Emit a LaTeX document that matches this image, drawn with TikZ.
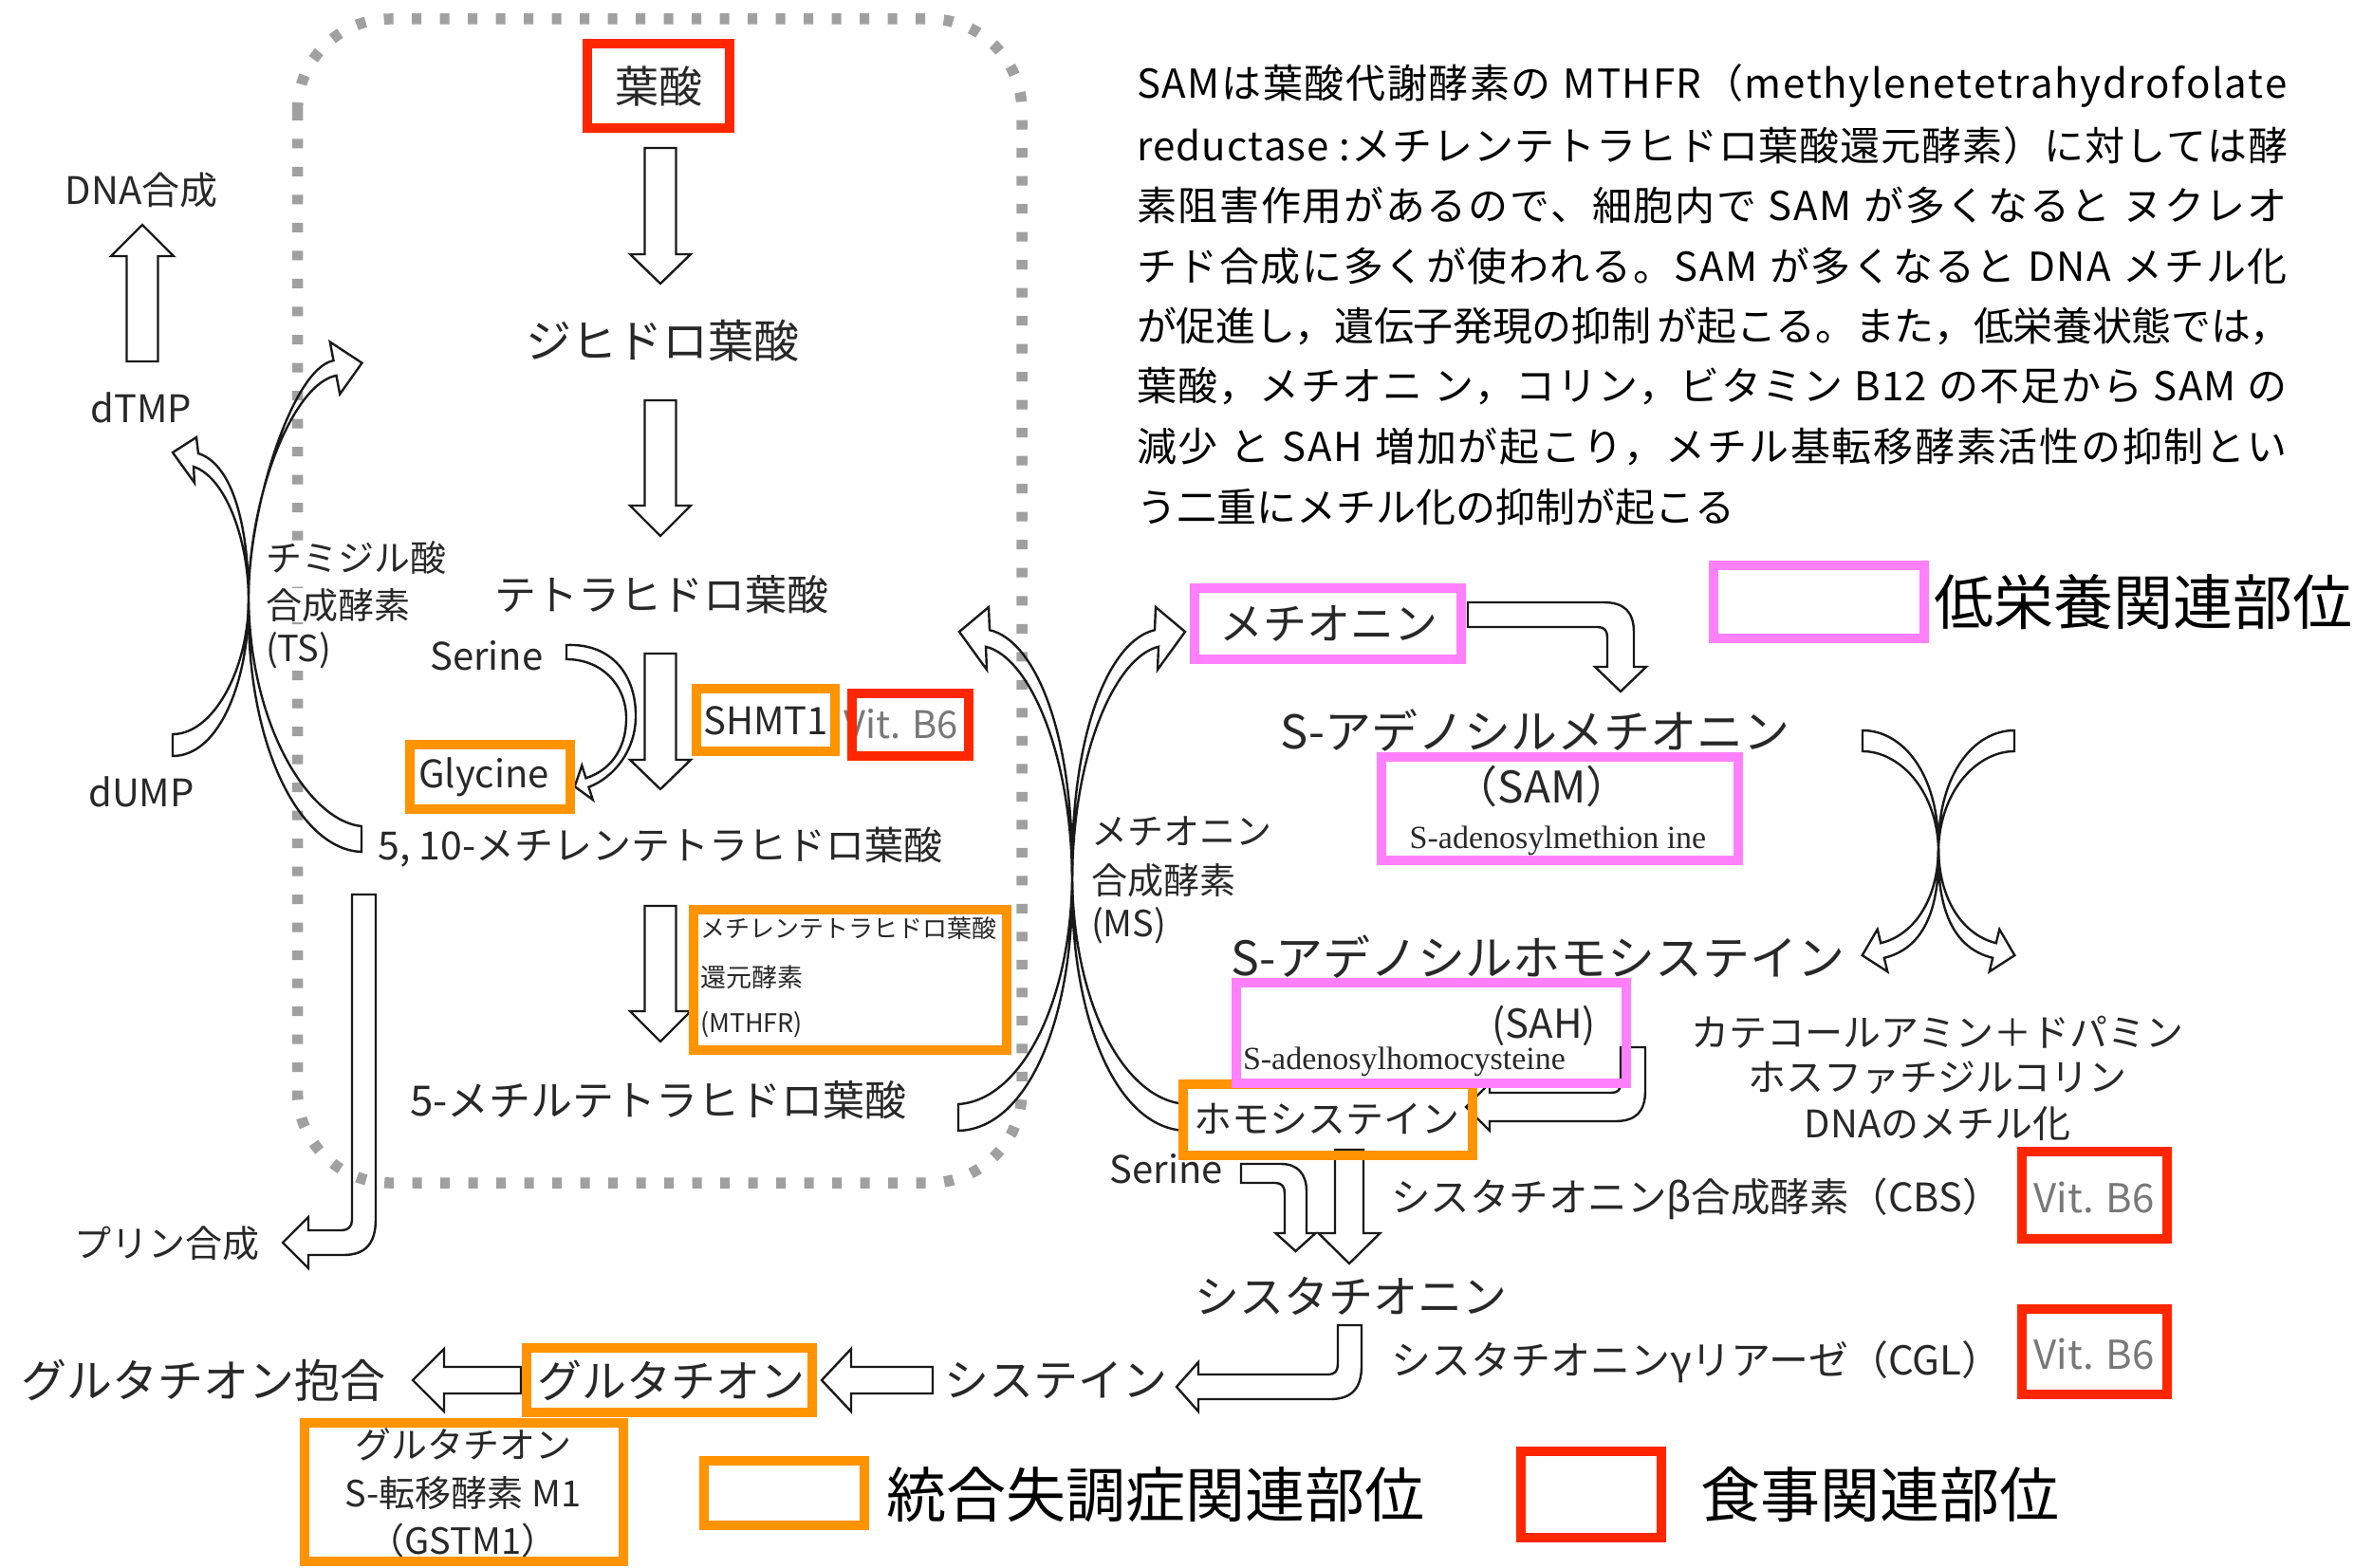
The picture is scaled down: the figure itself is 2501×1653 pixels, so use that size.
\documentclass[tikz,border=0pt]{standalone}
\usepackage{fontspec}
\setmainfont{Noto Sans CJK JP}
\newfontfamily\serifen{Liberation Serif}
\definecolor{bxred}{RGB}{255,38,0}
\definecolor{bxorange}{RGB}{255,147,0}
\definecolor{bxpink}{RGB}{255,128,250}
\definecolor{txtgray}{RGB}{40,40,40}
\definecolor{vitgray}{RGB}{120,120,120}
\definecolor{dotgray}{RGB}{160,160,160}
\newcommand\fsz[1]{\fontsize{#1}{#1}\selectfont}
% justify a line: glue after every character (spaces written as ~)
\def\sprend{\sprend}
\def\sprloop#1{\ifx#1\sprend\else#1\hskip0pt plus 1fil minus 0.6pt\relax\expandafter\sprloop\fi}
\newcommand\jline[1]{\makebox[1214pt][s]{\sprloop#1\sprend\hskip0pt minus 2pt}}
\tikzset{
  hol/.style={draw=black!90, line width=2.4pt, line join=miter, miter limit=4},
  holw/.style={hol, fill=white},
  tx/.style={inner sep=0pt, outer sep=0pt, text=txtgray},
  rbox/.style={draw=bxred, line width=10pt},
  obox/.style={draw=bxorange, line width=10pt},
  pbox/.style={draw=bxpink, line width=10pt},
  para/.style={anchor=west, inner sep=0pt, font=\fsz{42}, text=black},
}
% straight hollow arrow along y: x, ytail, ybase, ytip, half shaft, half head
\newcommand\dnarr[6]{\draw[holw] ({#1-#5},#2) -- ({#1+#5},#2) -- ({#1+#5},#3) -- ({#1+#6},#3) -- (#1,#4) -- ({#1-#6},#3) -- ({#1-#5},#3) -- cycle;}
% straight hollow arrow along x: y, xtail, xbase, xtip, half shaft, half head
\newcommand\lfarr[6]{\draw[holw] (#2,{#1-#5}) -- (#2,{#1+#5}) -- (#3,{#1+#5}) -- (#3,{#1+#6}) -- (#4,#1) -- (#3,{#1-#6}) -- (#3,{#1-#5}) -- cycle;}
\newcommand\msarrowpath{\draw[hol] (1010,1164) .. controls (1075,1160) and (1128,1060) .. (1130,927) .. controls (1129,790) and (1083,692) .. (1039,681.8) -- (1040,706) -- (1011,666) -- (1042,640) -- (1043,664.2) .. controls (1090,675) and (1132,770) .. (1130,927) .. controls (1132,1070) and (1085,1190) .. (1010,1192) -- cycle;}
\newcommand\xarrowpath{\draw[hol] (1963,770) .. controls (2005,770) and (2043,815) .. (2043,893) .. controls (2043,950) and (2070,986) .. (2103.8,994.2) -- (2107.3,979.7) -- (2123.3,1007.1) -- (2096.7,1024.3) -- (2100.2,1009.8) .. controls (2059.5,1000) and (2041,960) .. (2043,893) .. controls (2040,830) and (2000,792) .. (1963,792) -- cycle;}
\begin{document}
\begin{tikzpicture}[x=1pt,y=-1pt]
\useasboundingbox (0,0) rectangle (2501,1653);
\fill[white] (0,0) rectangle (2501,1653);
% dotted folate-cycle frame
\draw[dotgray, line width=11.5pt, dash pattern=on 10pt off 19.5pt, rounded corners=97pt] (313.5,20) rectangle (1077,1247);

% ---- straight hollow arrows
\dnarr{696}{156}{268}{299}{16.5}{32}
\dnarr{696}{422}{533}{565}{16.5}{32}
\dnarr{696}{689}{801}{832}{16.5}{32}
\dnarr{696}{955}{1066}{1098}{16.5}{32}
\dnarr{150}{381}{270}{237}{16.5}{33}
\dnarr{1422}{1212}{1300}{1332}{15}{32.5}
\lfarr{1455}{983}{897}{866}{14}{33}
\lfarr{1455}{549}{468}{435}{14}{33}

% ---- TS crossing arrows
\draw[hol] (182,774) .. controls (225,774) and (262,705) .. (262,632)
  .. controls (262,570) and (238,503) .. (204,492) -- (205,509) -- (182,477) -- (207,461) -- (209,478)
  .. controls (247,490) and (262,560) .. (262,632)
  .. controls (263,715) and (232,797) .. (182,797) -- cycle;
\draw[hol] (381,871) .. controls (328,866) and (264,770) .. (262,632)
  .. controls (262,520) and (310,404) .. (354.5,395.9) -- (358.2,415.5) -- (381.5,382.6) -- (347.8,360.5) -- (351.5,380.1)
  .. controls (307.5,388.5) and (261,540) .. (262,632)
  .. controls (259,790) and (318,896) .. (381,898) -- cycle;

% ---- MS crossing arrows
\msarrowpath
\begin{scope}[xshift=2260pt, xscale=-1]\msarrowpath\end{scope}

% ---- SAM/SAH crossing arrows
\xarrowpath
\begin{scope}[xshift=4086pt, xscale=-1]\xarrowpath\end{scope}

% ---- Serine -> Glycine
\draw[holw] (597,680) .. controls (645,678) and (671,712) .. (670,757)
  .. controls (669,793) and (646,820) .. (620.5,829.75) -- (624.7,843) -- (605.7,829.2) -- (613.3,807) -- (617.5,820.25)
  .. controls (641,813) and (660,792) .. (660,757) .. controls (660,722) and (634,695) .. (597,695) -- cycle;

% ---- bent arrows
\draw[holw] (1547,635) -- (1690,635) .. controls (1712,635) and (1722,645) .. (1722,667) -- (1722,703) -- (1735,703) -- (1708,729) -- (1681,703) -- (1694,703) -- (1694,672) .. controls (1694,665) and (1691,661) .. (1684,661) -- (1547,661) -- cycle;
\draw[holw] (1708,1104) -- (1734,1104) -- (1734,1150) .. controls (1734,1172) and (1724,1182) .. (1702,1182) -- (1570,1182) -- (1570,1192) -- (1545,1167) -- (1570,1142) -- (1570,1152) -- (1698,1152) .. controls (1705,1152) and (1708,1149) .. (1708,1142) -- cycle;
\draw[holw] (1308,1227) -- (1350,1227) .. controls (1368,1227) and (1377,1238) .. (1377,1256) -- (1377,1300) -- (1386.5,1300) -- (1365.5,1319) -- (1344.5,1300) -- (1354,1300) -- (1354,1258) .. controls (1354,1251) and (1351,1247) .. (1344,1247) -- (1308,1247) -- cycle;
\draw[holw] (1410,1397) -- (1435,1397) -- (1435,1440) .. controls (1435,1463) and (1425,1475) .. (1402,1475) -- (1263,1475) -- (1263,1488) -- (1240,1462) -- (1263,1436) -- (1263,1449) -- (1400,1449) .. controls (1407,1449) and (1410,1445) .. (1410,1438) -- cycle;
\draw[hol] (371,943) -- (396,943) -- (396,1285) .. controls (396,1310) and (386,1323) .. (362,1323) -- (325,1323) -- (325,1337) -- (298,1310) -- (325,1283) -- (325,1297) -- (360,1297) .. controls (367,1297) and (371,1293) .. (371,1286) -- cycle;

% ---- texts (left part)
\node[tx, font=\fsz{46}] (folate) at (694,91) {葉酸};
\node[tx, font=\fsz{48}] (dhf) at (698,359) {ジヒドロ葉酸};
\node[tx, font=\fsz{44}] (thf) at (697,627) {テトラヒドロ葉酸};
\node[tx, font=\fsz{40}] (ser1) at (513,691) {Serine};
\node[tx, font=\fsz{40}] (gly) at (510,819) {Glycine};
\node[tx, font=\fsz{40}] (shmt) at (807,760) {SHMT1};
\node[tx, font=\fsz{40}, text=vitgray, anchor=west] (vb6a) at (889,763) {Vit. B6};
\node[tx, font=\fsz{41}] (mthf510) at (696,893) {5, 10-メチレンテトラヒドロ葉酸};
\node[tx, font=\fsz{26}, anchor=west] (mthfr1) at (738,979) {メチレンテトラヒドロ葉酸};
\node[tx, font=\fsz{27}, anchor=west] (mthfr2) at (738,1030) {還元酵素};
\node[tx, font=\fsz{27}, anchor=west] (mthfr3) at (738,1080) {(MTHFR)};
\node[tx, font=\fsz{44}] (mthf5) at (694,1160) {5-メチルテトラヒドロ葉酸};
\node[tx, font=\fsz{40}] (dna) at (149,200) {DNA合成};
\node[tx, font=\fsz{40}] (dtmp) at (149,430) {dTMP};
\node[tx, font=\fsz{40}] (dump) at (149,835) {dUMP};
\node[tx, font=\fsz{38}, anchor=west, fill=white] (ts1) at (280,588) {チミジル酸};
\node[tx, font=\fsz{38}, anchor=west, fill=white] (ts2) at (280,638) {合成酵素};
\node[tx, font=\fsz{38}, anchor=west, fill=white] (ts3) at (280,686) {(TS)};
\node[tx, font=\fsz{39}] (purine) at (176,1311) {プリン合成};
\node[tx, font=\fsz{38}, anchor=west] (ms1) at (1150,876) {メチオニン};
\node[tx, font=\fsz{38}, anchor=west] (ms2) at (1150,928) {合成酵素};
\node[tx, font=\fsz{38}, anchor=west] (ms3) at (1150,976) {(MS)};

% ---- paragraph
\node[para] (p1) at (1198,90) {\jline{SAMは葉酸代謝酵素の~MTHFR（methylenetetrahydrofolate}};
\node[para] (p2) at (1198,153.5) {\jline{reductase~:メチレンテトラヒドロ葉酸還元酵素）に対しては酵}};
\node[para] (p3) at (1198,217) {\jline{素阻害作用があるので、細胞内で~SAM~が多くなると~ヌクレオ}};
\node[para] (p4) at (1198,280.5) {\jline{チド合成に多くが使われる。SAM~が多くなると~DNA~メチル化}};
\node[para] (p5) at (1198,344) {\jline{が促進し，遺伝子発現の抑制~が起こる。また，低栄養状態では，}};
\node[para] (p6) at (1198,407.5) {\jline{葉酸，メチオニ~ン，コリン，ビタミン~B12~の不足から~SAM~の}};
\node[para] (p7) at (1198,471) {\jline{減少~と~SAH~増加が起こり，メチル基転移酵素活性の抑制とい}};
\node[para] (p8) at (1198,534.5) {う二重にメチル化の抑制が起こる};

% ---- texts (right part)
\node[tx, font=\fsz{46}] (met) at (1400,657) {メチオニン};
\node[tx, font=\fsz{49}] (samjp) at (1618,770) {S-アデノシルメチオニン};
\node[tx, font=\fsz{46}] (sam) at (1625,829) {（SAM）};
\node[tx, font=\serifen\fsz{34}] (samen) at (1642,886) {S-adenosylmethion ine};
\node[tx, font=\fsz{50}] (sahjp) at (1621,1009) {S-アデノシルホモシステイン};
\node[tx, font=\fsz{42}] (sah) at (1627,1081) {(SAH)};
\node[tx, font=\serifen\fsz{34}, anchor=west] (sahen) at (1310,1119) {S-adenosylhomocysteine};
\node[tx, font=\fsz{40}] (hcy) at (1398,1180) {ホモシステイン};
\node[tx, font=\fsz{40}] (cat1) at (2042,1088) {カテコールアミン＋ドパミン};
\node[tx, font=\fsz{40}] (cat2) at (2042,1136) {ホスファチジルコリン};
\node[tx, font=\fsz{40}] (cat3) at (2042,1185) {DNAのメチル化};
\node[tx, font=\fsz{40}, anchor=east] (ser2) at (1289,1232) {Serine};
\node[tx, font=\fsz{41.5}, anchor=west] (cbs) at (1466,1264) {シスタチオニンβ合成酵素（CBS）};
\node[tx, font=\fsz{42}, text=vitgray] (vb6b) at (2207,1262) {Vit. B6};
\node[tx, font=\fsz{47}] (cysta) at (1424,1366) {シスタチオニン};
\node[tx, font=\fsz{42}, anchor=west] (cgl) at (1466,1436) {シスタチオニンγリアーゼ（CGL）};
\node[tx, font=\fsz{42}, text=vitgray] (vb6c) at (2207,1427) {Vit. B6};
\node[tx, font=\fsz{47}] (cys) at (1113,1455) {システイン};
\node[tx, font=\fsz{47}] (gsh) at (707,1455) {グルタチオン};
\node[tx, font=\fsz{48}] (gshconj) at (215,1455) {グルタチオン抱合};
\node[tx, font=\fsz{38}] (gst1) at (488,1523) {グルタチオン};
\node[tx, font=\fsz{38}] (gst2) at (488,1574) {S-転移酵素 M1};
\node[tx, font=\fsz{38}] (gst3) at (488,1624) {（GSTM1）};

% ---- legend texts
\node[tx, font=\fsz{63}, text=black, anchor=west] (lg1) at (2038,635) {低栄養関連部位};
\node[tx, font=\fsz{63}, text=black, anchor=west] (lg2) at (934,1576) {統合失調症関連部位};
\node[tx, font=\fsz{63}, text=black, anchor=west] (lg3) at (1792,1576) {食事関連部位};

% ---- coloured boxes
\draw[obox] (432,785) rectangle (601,853);
\draw[obox] (734,726) rectangle (880,792);
\draw[obox] (731,959) rectangle (1061,1107);
\draw[obox] (1246.7,1143) rectangle (1551.7,1218);
\draw[obox] (555,1421) rectangle (856,1489);
\draw[obox] (321,1500) rectangle (657,1646);
\draw[obox] (742,1540) rectangle (911,1608);
\draw[pbox] (1259,619.5) rectangle (1540,694.5);
\draw[pbox] (1456,798) rectangle (1832,907);
\draw[pbox] (1303,1036) rectangle (1714,1142);
\draw[pbox] (1806,596) rectangle (2028,673);
\draw[rbox] (619,46) rectangle (769,135);
\draw[rbox] (898,731) rectangle (1021,797);
\draw[rbox] (2131,1214) rectangle (2284,1306);
\draw[rbox] (2131,1380) rectangle (2284,1470);
\draw[rbox] (1603,1530) rectangle (1751,1621);
\end{tikzpicture}
\end{document}
